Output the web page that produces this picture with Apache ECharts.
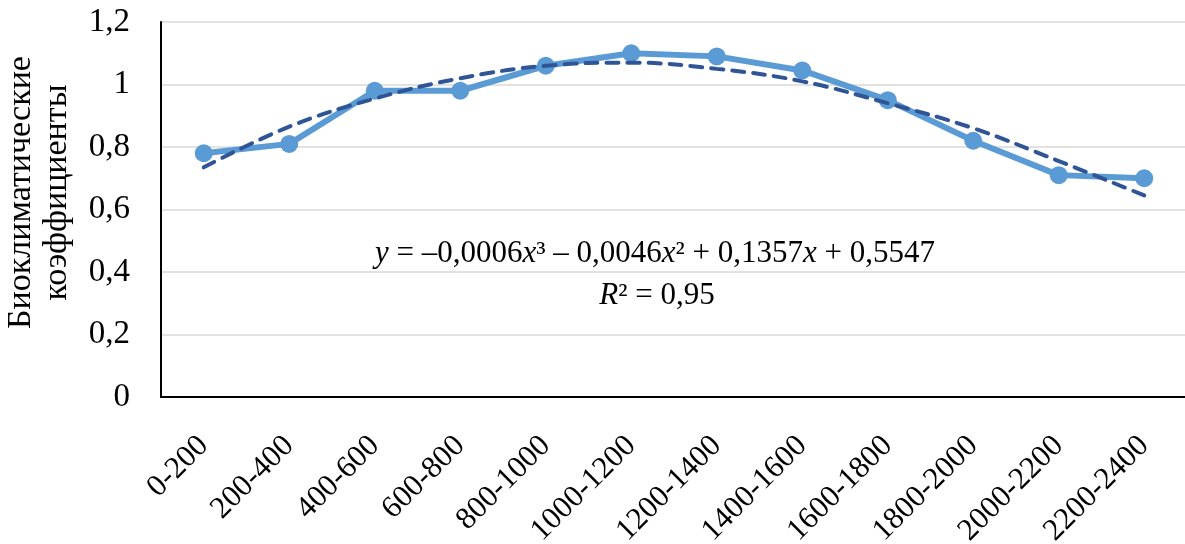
<!DOCTYPE html>
<html>
<head>
<meta charset="utf-8">
<script src="https://cdn.jsdelivr.net/npm/echarts@6/dist/echarts.min.js"></script>
<style>
  html, body { margin: 0; padding: 0; background: #ffffff; }
  #chart { width: 1185px; height: 544px; }
</style>
</head>
<body>
<div id="chart"></div>
<script>
const categories = ['0-200', '200-400', '400-600', '600-800', '800-1000', '1000-1200',
  '1200-1400', '1400-1600', '1600-1800', '1800-2000', '2000-2200', '2200-2400'];
const coefValues = [0.78, 0.81, 0.98, 0.98, 1.06, 1.10, 1.09, 1.045, 0.95, 0.82, 0.71, 0.70];
const trendValues = [0.735, 0.865, 0.955, 1.02, 1.06, 1.07, 1.05, 1.01, 0.94, 0.86, 0.755, 0.645];
const yTicks = { min: 0, max: 1.2, interval: 0.2 };
const yTitle = 'Биоклиматические\nкоэффициенты';
const eqLine1 = '{i|y} = –0,0006{i|x}³ – 0,0046{i|x}² + 0,1357{i|x} + 0,5547';
const eqLine2 = '{i|R}² = 0,95';

const FONT = '"Liberation Serif", "Times New Roman", serif';
const chart = echarts.init(document.getElementById('chart'), null, { renderer: 'canvas' });

chart.setOption({
  backgroundColor: '#ffffff',
  animation: false,
  grid: { left: 161, top: 22, width: 1026, height: 375, containLabel: false, outerBoundsMode: 'none' },
  xAxis: {
    type: 'category',
    data: categories,
    boundaryGap: true,
    axisLine: { show: true, lineStyle: { color: '#000000', width: 2 } },
    axisTick: { show: false },
    splitLine: { show: false },
    axisLabel: {
      rotate: 45,
      margin: 44,
      color: '#000000',
      fontFamily: FONT,
      fontSize: 31,
      interval: 0
    }
  },
  yAxis: {
    type: 'value',
    min: yTicks.min,
    max: yTicks.max,
    interval: yTicks.interval,
    name: yTitle,
    nameLocation: 'middle',
    nameRotate: 90,
    nameGap: 86,
    nameTextStyle: {
      color: '#000000',
      fontFamily: FONT,
      fontSize: 34,
      lineHeight: 36,
      align: 'center',
      padding: [0, 0, 0, 34]
    },
    axisLine: { show: true, lineStyle: { color: '#000000', width: 2 } },
    axisTick: { show: false },
    splitLine: { show: true, lineStyle: { color: '#d9d9d9', width: 1.5 } },
    axisLabel: {
      margin: 31,
      color: '#000000',
      fontFamily: FONT,
      fontSize: 33,
      formatter: function (v) { return String(+v.toFixed(1)).replace('.', ','); }
    }
  },
  graphic: [
    {
      type: 'text',
      style: {
        x: 655, y: 254,
        text: eqLine1,
        align: 'center',
        verticalAlign: 'middle',
        fill: '#000000',
        font: '31px ' + FONT,
        rich: { i: { fontStyle: 'italic', fontFamily: FONT, fontSize: 31 } }
      }
    },
    {
      type: 'text',
      style: {
        x: 657, y: 296,
        text: eqLine2,
        align: 'center',
        verticalAlign: 'middle',
        fill: '#000000',
        font: '31px ' + FONT,
        rich: { i: { fontStyle: 'italic', fontFamily: FONT, fontSize: 31 } }
      }
    }
  ],
  series: [
    {
      name: 'Коэффициенты',
      type: 'line',
      data: coefValues,
      symbol: 'circle',
      symbolSize: 18,
      lineStyle: { color: '#5B9BD5', width: 6 },
      itemStyle: { color: '#5B9BD5' },
      z: 2
    },
    {
      name: 'Тренд',
      type: 'line',
      data: trendValues,
      smooth: 0.4,
      symbol: 'none',
      lineStyle: { color: '#2F5597', width: 4, type: [12, 9], cap: 'round' },
      z: 3
    }
  ]
});
</script>
</body>
</html>
